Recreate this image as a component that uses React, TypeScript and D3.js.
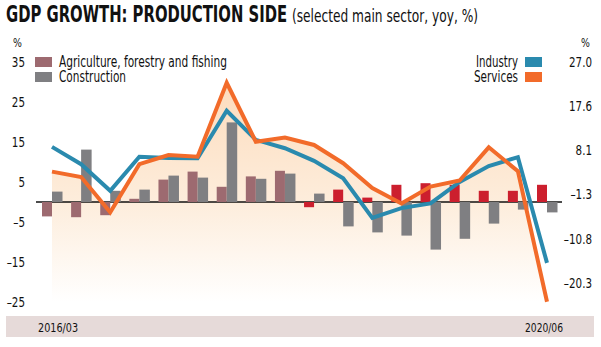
import React, { useLayoutEffect, useRef, useState } from "react";
import * as d3 from "d3";

const quarters = [
  "2016/03", "2016/06", "2016/09", "2016/12",
  "2017/03", "2017/06", "2017/09", "2017/12",
  "2018/03", "2018/06", "2018/09", "2018/12",
  "2019/03", "2019/06", "2019/09", "2019/12",
  "2020/03", "2020/06",
];
const agriculture = [-3.6, -3.8, -3.3, 0.8, 5.6, 7.6, 3.8, 6.4, 7.8, -1.3, 3.1, 1.1, 4.3, 4.7, 4.3, 2.8, 2.8, 4.3];
const construction = [2.6, 13.1, 2.8, 3.1, 6.6, 6.1, 19.9, 5.8, 7.1, 2.1, -6.1, -7.6, -8.4, -11.9, -9.2, -5.4, -1.9, -2.6];
const industry = [8.8, 5.1, -0.6, 6.7, 6.4, 6.35, 16.5, 10.3, 8.5, 5.8, 2.1, -6.4, -4.3, -3.3, 1.3, 4.7, 6.6, -16.0];
const services = [3.5, 2.35, -5.2, 5.1, 7.05, 6.7, 22.5, 9.9, 10.8, 9.2, 5.3, 0.0, -3.3, 0.3, 1.6, 8.7, 3.6, -24.3];
const leftTicks = [35, 25, 15, 5, -5, -15, -25];
const rightTicks = [27.0, 17.6, 8.1, -1.3, -10.8, -20.3];
const recentFrom = "2018/06";

const FONT = "'DejaVu Sans Condensed', 'DejaVu Sans', sans-serif";
const C_AGRI = "#9d6a70";
const C_AGRI_RECENT = "#cc1f2e";
const C_CONS = "#7f7f82";
const C_IND = "#2a8aae";
const C_SERV = "#f26b2a";
const INK = "#111";

const fmt = (v: number, digits: number) =>
  (v < 0 ? "\u2013" : "") + Math.abs(v).toFixed(digits);

type FitProps = {
  x: number;
  y: number;
  width?: number;
  sx?: number;
  anchor?: "start" | "middle" | "end";
  size: number;
  weight?: string;
  children: string;
};

function FitText({ x, y, width, sx, anchor = "start", size, weight, children }: FitProps) {
  const ref = useRef<SVGTextElement>(null);
  const [s, setS] = useState(sx ?? 0.85);
  useLayoutEffect(() => {
    if (width && ref.current) {
      const w = ref.current.getComputedTextLength();
      if (w > 0) setS(width / w);
    }
  }, [width, children]);
  return (
    <text
      ref={ref}
      transform={`translate(${x},${y}) scale(${s},1)`}
      textAnchor={anchor}
      fontSize={size}
      fontWeight={weight}
      fill={INK}
    >
      {children}
    </text>
  );
}

export default function App() {
  const W = 601;
  const H = 347;
  const x = d3.scalePoint<string>().domain(quarters).range([52, 547]);
  const yL = d3.scaleLinear().domain([-25, 35]).range([302, 62]);
  const yR = d3.scaleLinear().domain([-20.3, 27.0]).range([283, 61.7]);
  const recentIdx = quarters.indexOf(recentFrom);

  const lineGen = d3
    .line<number>()
    .x((_, i) => x(quarters[i]) as number)
    .y((d) => yR(d));
  const areaGen = d3
    .area<number>()
    .x((_, i) => x(quarters[i]) as number)
    .y0(yL(-25))
    .y1((d) => yR(d));

  const barW = 10;

  return (
    <svg
      width={W}
      height={H}
      style={{ position: "absolute", left: 0, top: 0, background: "#fff" }}
      fontFamily={FONT}
    >
      <defs>
        <linearGradient id="fillGrad" gradientUnits="userSpaceOnUse" x1="0" y1={yR(22.5)} x2="0" y2={yL(-25)}>
          <stop offset="0" stopColor="#fddcbd" />
          <stop offset="0.55" stopColor="#fdeddc" />
          <stop offset="1" stopColor="#ffffff" />
        </linearGradient>
      </defs>

      {/* Title */}
      <FitText x={6} y={22} size={23} weight="bold" width={281}>GDP GROWTH: PRODUCTION SIDE</FitText>
      <FitText x={292} y={22} size={18} width={186}>(selected main sector, yoy, %)</FitText>

      {/* bottom band */}
      <rect x={6} y={316} width={588} height={21} fill="#e6dad9" />
      <FitText x={38} y={332} size={13} width={40}>{quarters[0]}</FitText>
      <FitText x={525} y={332} size={13} width={38}>{quarters[quarters.length - 1]}</FitText>

      {/* area fill */}
      <path d={areaGen(services) || ""} fill="url(#fillGrad)" />

      {/* zero line */}
      <line x1={36} x2={562} y1={yL(0)} y2={yL(0)} stroke={INK} strokeWidth={1.3} />

      {/* bars */}
      {quarters.map((q, i) => {
        const cx = x(q) as number;
        const a = agriculture[i];
        const c = construction[i];
        return (
          <g key={q}>
            <rect
              x={cx - barW}
              width={barW}
              y={Math.min(yL(a), yL(0))}
              height={Math.abs(yL(a) - yL(0))}
              fill={i >= recentIdx ? C_AGRI_RECENT : C_AGRI}
            />
            <rect
              x={cx}
              width={barW + 0.5}
              y={Math.min(yL(c), yL(0))}
              height={Math.abs(yL(c) - yL(0))}
              fill={C_CONS}
            />
          </g>
        );
      })}

      {/* lines */}
      <path d={lineGen(industry) || ""} fill="none" stroke={C_IND} strokeWidth={4} strokeLinejoin="miter" />
      <path d={lineGen(services) || ""} fill="none" stroke={C_SERV} strokeWidth={4} strokeLinejoin="miter" />

      {/* left axis */}
      <FitText x={22} y={47} size={13} anchor="end" sx={0.8}>%</FitText>
      {leftTicks.map((t) => (
        <FitText key={t} x={25} y={yL(t) + 5} size={14} anchor="end" sx={0.82}>
          {fmt(t, 0)}
        </FitText>
      ))}

      {/* right axis */}
      <FitText x={590} y={47} size={13} anchor="end" sx={0.8}>%</FitText>
      {rightTicks.map((t) => (
        <FitText key={t} x={592} y={yR(t) + 5} size={14} anchor="end" sx={0.82}>
          {fmt(t, 1)}
        </FitText>
      ))}

      {/* left legend */}
      <rect x={35} y={57} width={17} height={10} fill={C_AGRI} />
      <rect x={35} y={72} width={17} height={10} fill={C_CONS} />
      <FitText x={59} y={67} size={15} width={168}>Agriculture, forestry and fishing</FitText>
      <FitText x={59} y={82} size={15} width={67}>Construction</FitText>

      {/* right legend */}
      <rect x={525} y={57} width={17} height={10} fill={C_IND} />
      <rect x={525} y={72} width={17} height={10} fill={C_SERV} />
      <FitText x={518} y={67} size={15} anchor="end" width={42}>Industry</FitText>
      <FitText x={518} y={82} size={15} anchor="end" width={44}>Services</FitText>
    </svg>
  );
}
